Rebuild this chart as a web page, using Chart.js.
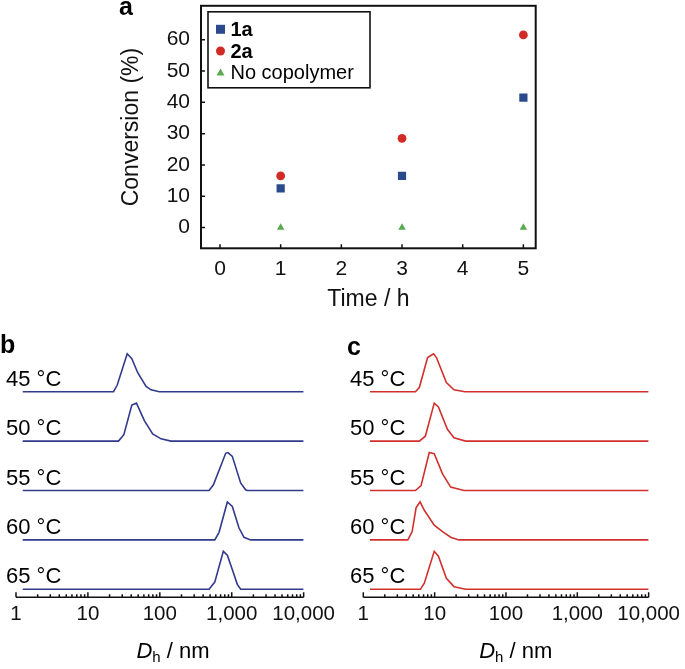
<!DOCTYPE html>
<html lang="en">
<head>
  <meta charset="UTF-8">
  <title>Conversion and DLS</title>
  <script src="https://cdn.jsdelivr.net/npm/chart.js"></script>
  <style>
    body {
      margin: 0;
      background: #fff;
    }

    #wrap {
      position: relative;
      width: 685px;
      height: 669px;
    }

    canvas {
      position: absolute;
    }
  </style>
</head>
<body>
  <div id="wrap">
    <canvas id="chartA" width="685" height="325" style="left:0;top:0"></canvas>
    <canvas id="chartB" width="340" height="339" style="left:0;top:330px"></canvas>
    <canvas id="chartC" width="345" height="339" style="left:340px;top:330px"></canvas>
  </div>

  <script>
    // panel a: conversion vs time
    const timeH = [1, 3, 5];
    const conv1a = [12.5, 16.5, 41.5];
    const conv2a = [16.5, 28.5, 61.5];
    const convNone = [0, 0, 0];
    const timeTicks = [0, 1, 2, 3, 4, 5];
    const convTicks = [0, 10, 20, 30, 40, 50, 60];

    // panels b and c: DLS size distributions (intensity normalised to peak)
    const temps = ['45 °C', '50 °C', '55 °C', '60 °C', '65 °C'];
    const dhTicks = [1, 10, 100, 1000, 10000];

    const dhB45 = [1.24, 22.7, 25.5, 35.2, 40.8, 49.3, 64.4, 75.5, 98.4, 10000];
    const inB45 = [0, 0, 0.17, 1.0, 0.87, 0.5, 0.14, 0.05, 0, 0];
    const dhB50 = [1.24, 26.6, 31.6, 40.8, 47.3, 61, 79.5, 104, 143, 10000];
    const inB50 = [0, 0, 0.17, 0.95, 1.0, 0.54, 0.19, 0.06, 0, 0];
    const dhB55 = [1.24, 484, 556, 824, 887, 1019, 1330, 1560, 1640, 10000];
    const inB55 = [0, 0, 0.15, 0.98, 1.0, 0.9, 0.2, 0.02, 0, 0];
    const dhB60 = [1.24, 581, 666, 869, 1019, 1259, 1479, 1828, 10000];
    const inB60 = [0, 0, 0.2, 1.0, 0.88, 0.32, 0.07, 0, 0];
    const dhB65 = [1.24, 484, 581, 764, 869, 1052, 1195, 1330, 10000];
    const inB65 = [0, 0, 0.19, 1.0, 0.9, 0.44, 0.13, 0, 0];

    const dhC45 = [1.24, 5.38, 6.1, 7.97, 9.66, 10.6, 14.6, 18.7, 26.6, 10000];
    const inC45 = [0, 0, 0.11, 0.9, 1.0, 0.9, 0.24, 0.05, 0, 0];
    const dhC50 = [1.24, 6.1, 7.41, 9.87, 11.3, 15.1, 18.7, 27.2, 10000];
    const inC50 = [0, 0, 0.13, 1.0, 0.9, 0.31, 0.09, 0, 0];
    const dhC55 = [1.24, 5.38, 6.45, 8.41, 9.87, 12.9, 16.8, 25.7, 10000];
    const inC55 = [0, 0, 0.13, 1.0, 0.97, 0.44, 0.09, 0, 0];
    const dhC60 = [1.24, 4.21, 4.84, 5.5, 6.25, 7.17, 9.87, 12.9, 16.8, 21.9, 10000];
    const inC60 = [0, 0, 0.22, 0.85, 1.0, 0.78, 0.39, 0.22, 0.07, 0, 0];
    const dhC65 = [1.24, 6.31, 7.17, 9.87, 11.3, 14.6, 18.7, 27.2, 10000];
    const inC65 = [0, 0, 0.16, 1.0, 0.87, 0.29, 0.07, 0, 0];

    const FONT = "'Liberation Sans', Arial, sans-serif";
    const stackGap = 1.3;

    function drawMarker(ctx, style, x, y, r) {
      ctx.beginPath();
      if (style === 'rect') {
        ctx.rect(x - r, y - r, 2 * r, 2 * r);
      } else if (style === 'circle') {
        ctx.arc(x, y, r, 0, Math.PI * 2);
      } else {
        ctx.moveTo(x, y - r);
        ctx.lineTo(x + r * 0.95, y + r * 0.65);
        ctx.lineTo(x - r * 0.95, y + r * 0.65);
        ctx.closePath();
      }
      ctx.fill();
    }

    const frameA = {
      id: 'frameA',
      afterDraw(chart) {
        const { ctx, chartArea: a, scales: { x, y } } = chart;
        ctx.save();
        ctx.strokeStyle = '#111';
        ctx.lineWidth = 2;
        ctx.strokeRect(a.left, a.top, a.right - a.left, a.bottom - a.top);
        ctx.lineWidth = 1.5;
        ctx.beginPath();
        timeTicks.forEach(v => {
          const px = x.getPixelForValue(v);
          ctx.moveTo(px, a.bottom);
          ctx.lineTo(px, a.bottom - 4);
        });
        convTicks.forEach(v => {
          const py = y.getPixelForValue(v);
          ctx.moveTo(a.left, py);
          ctx.lineTo(a.left + 4, py);
        });
        ctx.stroke();

        // legend box
        const bx = a.left + 7, by = a.top + 6;
        ctx.lineWidth = 1.6;
        ctx.strokeRect(bx, by, 162, 76);
        chart.data.datasets.forEach((ds, i) => {
          const ry = by + 17.5 + i * 21.7;
          ctx.fillStyle = ds.backgroundColor;
          drawMarker(ctx, ds.pointStyle, bx + 12.5, ry, ds.pointStyle === 'triangle' ? 4.2 : 4.5);
          ctx.fillStyle = '#000';
          ctx.font = (i < 2 ? 'bold ' : '') + '20px ' + FONT;
          ctx.textBaseline = 'middle';
          ctx.textAlign = 'left';
          ctx.fillText(ds.label, bx + 22.5, ry + 1);
        });

        ctx.font = 'bold 25px ' + FONT;
        ctx.textBaseline = 'alphabetic';
        ctx.fillText('a', 119, 15);
        ctx.restore();
      }
    };

    new Chart(document.getElementById('chartA'), {
      type: 'scatter',
      data: {
        datasets: [
          {
            label: '1a',
            data: timeH.map((t, i) => ({ x: t, y: conv1a[i] })),
            backgroundColor: '#2b4a8b',
            pointStyle: 'rect',
            pointRadius: 5.8,
            borderWidth: 0
          },
          {
            label: '2a',
            data: timeH.map((t, i) => ({ x: t, y: conv2a[i] })),
            backgroundColor: '#d22b25',
            pointStyle: 'circle',
            pointRadius: 4.4,
            borderWidth: 0
          },
          {
            label: 'No copolymer',
            data: timeH.map((t, i) => ({ x: t, y: convNone[i] })),
            backgroundColor: '#5aab50',
            pointStyle: 'triangle',
            pointRadius: 4.3,
            borderWidth: 0
          }
        ]
      },
      options: {
        responsive: false,
        animation: false,
        layout: { padding: { left: 114, right: 149.3, top: 5, bottom: 7.5 } },
        plugins: { legend: { display: false }, tooltip: { enabled: false } },
        scales: {
          x: {
            type: 'linear',
            min: -0.313,
            max: 5.203,
            afterBuildTicks: s => { s.ticks = timeTicks.map(v => ({ value: v })); },
            afterFit: s => { s.height = 69.2; s.paddingLeft = 0; s.paddingRight = 0; },
            grid: { display: false, drawTicks: false },
            border: { display: false },
            ticks: { color: '#111', font: { family: FONT, size: 21 }, padding: 8, autoSkip: false, maxRotation: 0 },
            title: { display: true, text: 'Time / h', color: '#111', font: { family: FONT, size: 23 } }
          },
          y: {
            min: -6.6,
            max: 70.8,
            afterBuildTicks: s => { s.ticks = convTicks.map(v => ({ value: v })); },
            afterFit: s => { s.width = 87; s.paddingTop = 0; s.paddingBottom = 0; },
            grid: { display: false, drawTicks: false },
            border: { display: false },
            ticks: { color: '#111', font: { family: FONT, size: 21 }, padding: 11 },
            title: { display: true, text: 'Conversion (%)', color: '#111', font: { family: FONT, size: 23 } }
          }
        }
      },
      plugins: [frameA]
    });

    function dlsChart(id, sizes, intens, color, pad, tag, labelX, titleX) {
      const n = temps.length;
      const datasets = temps.map((t, i) => ({
        label: t,
        data: sizes[i].map((d, k) => ({ x: d, y: intens[i][k] + (n - 1 - i) * stackGap })),
        borderColor: color,
        borderWidth: 1.6,
        pointRadius: 0,
        tension: 0,
        fill: false
      }));

      const deco = {
        id: 'deco' + id,
        afterDraw(chart) {
          const { ctx, chartArea: a, scales: { x, y } } = chart;
          ctx.save();
          // axis line with inward log ticks
          ctx.strokeStyle = '#111';
          ctx.lineWidth = 1.5;
          ctx.beginPath();
          ctx.moveTo(a.left, a.bottom);
          ctx.lineTo(a.right, a.bottom);
          dhTicks.forEach((dec, j) => {
            const steps = j < dhTicks.length - 1 ? 9 : 1;
            for (let m = 1; m <= steps; m++) {
              const px = x.getPixelForValue(dec * m);
              ctx.moveTo(px, a.bottom);
              ctx.lineTo(px, a.bottom - (m === 1 ? 5 : 3));
            }
          });
          ctx.stroke();

          // temperature labels
          ctx.fillStyle = '#000';
          ctx.font = '22px ' + FONT;
          ctx.textAlign = 'left';
          ctx.textBaseline = 'alphabetic';
          temps.forEach((t, i) => {
            const base = y.getPixelForValue((n - 1 - i) * stackGap);
            ctx.fillText(t, labelX, base - 6);
          });

          // panel tag
          ctx.font = 'bold 25px ' + FONT;
          ctx.fillText(tag.text, tag.x, tag.y);

          // axis title D_h / nm
          const base = 328.3;
          const wD = (ctx.font = 'italic 22px ' + FONT, ctx.measureText('D').width);
          const wh = (ctx.font = '15px ' + FONT, ctx.measureText('h').width);
          const wr = (ctx.font = '22px ' + FONT, ctx.measureText(' / nm').width);
          let tx = titleX - (wD + wh + wr) / 2;
          ctx.font = 'italic 22px ' + FONT;
          ctx.fillText('D', tx, base);
          tx += wD;
          ctx.font = '15px ' + FONT;
          ctx.fillText('h', tx, base + 4);
          tx += wh;
          ctx.font = '22px ' + FONT;
          ctx.fillText(' / nm', tx, base);
          ctx.restore();
        }
      };

      new Chart(document.getElementById(id), {
        type: 'line',
        data: { datasets },
        options: {
          responsive: false,
          animation: false,
          layout: { padding: pad },
          plugins: { legend: { display: false }, tooltip: { enabled: false } },
          scales: {
            x: {
              type: 'logarithmic',
              min: 1,
              max: 10000,
              afterBuildTicks: s => { s.ticks = dhTicks.map(v => ({ value: v })); },
              afterFit: s => { s.height = 71.7; },
              grid: { display: false, drawTicks: false },
              border: { display: false },
              ticks: {
                color: '#111',
                font: { family: FONT, size: 20.5 },
                padding: 5,
                autoSkip: false,
                maxRotation: 0,
                callback: v => Number(v).toLocaleString('en-US')
              }
            },
            y: {
              min: -0.21,
              max: 6.43,
              display: false
            }
          }
        },
        plugins: [deco]
      });
    }

    dlsChart('chartB',
      [dhB45, dhB50, dhB55, dhB60, dhB65],
      [inB45, inB50, inB55, inB60, inB65],
      '#323a8c',
      { left: 16, right: 35, top: 15, bottom: 0 },
      { text: 'b', x: 0, y: 23.3 }, 6, 173);

    dlsChart('chartC',
      [dhC45, dhC50, dhC55, dhC60, dhC65],
      [inC45, inC50, inC55, inC60, inC65],
      '#d0312d',
      { left: 23.3, right: 33.3, top: 15, bottom: 0 },
      { text: 'c', x: 7, y: 25 }, 10, 175.8);
  </script>
</body>
</html>
